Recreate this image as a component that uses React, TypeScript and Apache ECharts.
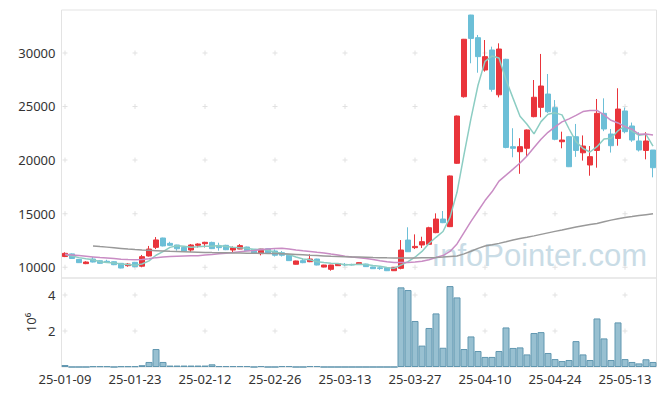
import React, { useEffect, useRef } from "react";
import * as echarts from "echarts";

const dates = [
  "25-01-09","25-01-10","25-01-13","25-01-14","25-01-15","25-01-16","25-01-17","25-01-20","25-01-21","25-01-22",
  "25-01-23","25-01-24","25-01-31","25-02-03","25-02-04","25-02-05","25-02-06","25-02-07","25-02-10","25-02-11",
  "25-02-12","25-02-13","25-02-14","25-02-17","25-02-18","25-02-19","25-02-20","25-02-21","25-02-24","25-02-25",
  "25-02-26","25-02-27","25-02-28","25-03-04","25-03-05","25-03-06","25-03-07","25-03-10","25-03-11","25-03-12",
  "25-03-13","25-03-14","25-03-17","25-03-18","25-03-19","25-03-20","25-03-21","25-03-24","25-03-25","25-03-26",
  "25-03-27","25-03-28","25-03-31","25-04-01","25-04-02","25-04-03","25-04-04","25-04-07","25-04-08","25-04-09",
  "25-04-10","25-04-11","25-04-14","25-04-15","25-04-16","25-04-17","25-04-18","25-04-21","25-04-22","25-04-23",
  "25-04-24","25-04-25","25-04-28","25-04-29","25-04-30","25-05-02","25-05-07","25-05-08","25-05-09","25-05-12",
  "25-05-13","25-05-14","25-05-15","25-05-16","25-05-19",
];

const opens = [
  11000,11250,10740,10340,10770,10610,10560,10520,10370,10150,
  10460,10100,11050,11860,12730,12230,12080,11860,11610,12050,
  12200,12320,11950,12050,11610,11700,11890,11680,11270,11730,
  11520,11360,11120,10280,10620,10520,10770,10020,9810,10150,
  10270,10270,10280,10300,10030,9950,9960,9680,9900,12540,
  11830,12080,12140,13230,14500,13790,19700,25910,33530,31420,
  28400,30270,26090,29400,21250,20780,21100,24050,24920,26160,
  24890,21710,22180,22180,20680,19540,20900,24360,22430,22020,
  24580,23180,21780,20900,20940,
];
const closes = [
  11300,10820,10430,10490,10490,10370,10460,10240,9930,10300,
  10060,10990,11700,12550,11990,12050,11730,11520,12080,12170,
  12330,11740,11830,11640,11830,12020,11550,11300,11700,11330,
  11120,11120,10620,10590,10430,10770,10210,10210,10210,10340,
  10220,10220,10430,10060,9870,9880,9680,10000,11610,11450,
  11950,12390,13690,14500,14160,18520,24110,31270,31350,29650,
  29650,26600,30360,21180,21100,21250,22810,25860,26910,24510,
  21940,21870,19380,20900,21310,20320,24360,22900,21340,24760,
  22650,21870,20940,21780,19290,
];
const lows = [
  10950,10780,10400,10290,10450,10330,10400,10200,9900,10050,
  10000,10000,11000,11700,11950,11980,11550,11460,11420,11840,
  11850,11700,11550,11600,11420,11680,11520,11280,11110,11300,
  11000,11000,10600,10250,10380,10480,10180,9990,9680,10120,
  10100,10160,10250,10030,9850,9760,9650,9660,9810,11430,
  11700,11800,12080,13180,14120,13750,19650,25830,29030,28150,
  28250,26380,25850,21100,20260,18720,20380,23990,23990,24400,
  21850,21100,19350,20300,19950,18540,19290,22700,20700,21340,
  22500,21700,20800,20070,18390,
];
const highs = [
  11400,11300,10760,10560,10960,10660,10700,10560,10400,10400,
  10500,11150,11990,12820,12760,12380,12100,11920,12170,12230,
  12380,12390,12290,12100,11950,12160,11920,11700,11730,11760,
  11670,11520,11150,10620,10800,11210,10800,10230,10230,10360,
  10400,10330,10450,10330,10050,10120,9980,10020,12540,13730,
  13070,12850,13780,15030,15250,18560,24150,31300,33550,31670,
  31200,30580,30890,29450,22970,22040,22850,27470,29900,28030,
  25600,22650,22250,23370,22300,21310,25700,25760,22900,26700,
  24900,23500,22600,22600,20940,
];

// volume, in units of 10^6
const volumes = [
  0.11,0,0,0,0.04,0.04,0.04,0,0.04,0.04,
  0.04,0.10,0.28,1.00,0.28,0.08,0.08,0.08,0.08,0.08,
  0.08,0.15,0.05,0.05,0.05,0.05,0.05,0,0.05,0,
  0,0.05,0.05,0,0,0.05,0.05,0,0,0,
  0,0,0,0,0,0,0,0,4.43,4.28,
  2.56,1.19,2.17,2.98,1.07,4.50,3.87,1.00,1.70,0.89,
  0.56,0.56,0.89,2.20,1.06,1.09,0.70,1.89,1.94,0.78,
  0.44,0.33,0.39,1.44,0.70,0.39,2.70,1.59,0.39,2.48,
  0.44,0.28,0.20,0.43,0.28,
];

const maShort = [
  11180,11050,10900,10800,10706,10520,10448,10410,10298,10260,
  10198,10304,10596,11120,11458,11856,12004,11968,11874,11910,
  11966,11968,12030,11942,11874,11812,11774,11668,11680,11580,
  11400,11314,11178,10956,10776,10706,10524,10442,10366,10348,
  10238,10240,10284,10254,10160,10092,9984,9898,10208,10524,
  10938,11480,12218,12796,13338,14652,16996,20512,23882,26980,
  29206,29704,29522,27488,25778,24098,23340,22440,23586,24268,
  24406,24218,22922,21720,21080,20756,21254,21958,22046,22736,
  23202,22704,22312,22400,21306,
];
const maMid = [
  11210,11150,11090,11030,10970,10910,10860,10810,10760,10720,
  10710,10730,10800,10900,10960,11000,11030,11050,11070,11084,
  11135,11181,11251,11309,11376,11458,11513,11566,11654,11706,
  11759,11765,11711,11613,11535,11471,11395,11330,11236,11145,
  11039,10963,10893,10814,10716,10609,10516,10451,10446,10452,
  10494,10557,10711,10906,11093,11480,12175,13228,14285,15251,
  16222,17041,18038,18594,19155,19724,20380,21173,21938,22591,
  23091,23565,23849,24169,24527,24617,24629,24211,23710,23466,
  23116,22879,22408,22438,22348,
];
const maLong = [
  null,null,null,null,11990,11930,11880,11820,11760,11700,
  11650,11610,11580,11550,11520,11490,11470,11450,11430,11410,
  11390,11370,11360,11350,11340,11330,11320,11310,11300,11290,
  11280,11260,11240,11200,11160,11120,11090,11060,11030,11010,
  10990,10970,10950,10930,10910,10900,10880,10870,10860,10860,
  10860,10880,10900,10920,10950,11000,11050,11250,11500,11760,
  11980,12100,12230,12380,12550,12680,12800,12930,13070,13210,
  13350,13480,13620,13750,13880,13980,14080,14240,14400,14530,
  14650,14730,14820,14910,15000,
];

const xTickLabels = ["25-01-09","25-01-23","25-02-12","25-02-26","25-03-13","25-03-27","25-04-10","25-04-24","25-05-13"];
const priceTicks = [10000, 15000, 20000, 25000, 30000];
const volumeTicks = [2, 4];

const UP = "#e9343b";
const DOWN = "#6cbfd7";
const FONT = "Noto Sans";
const PLUS = "path://M2,0H3V2H5V3H3V5H2V3H0V2H2Z";

export default function App() {
  const ref = useRef<HTMLDivElement>(null);
  useEffect(() => {
    const chart = echarts.init(ref.current!, null, { renderer: "svg" });
    const tickIdx = xTickLabels.map((d) => dates.indexOf(d));
    const crossMain: number[][] = [];
    const crossVol: number[][] = [];
    tickIdx.forEach((i) => {
      priceTicks.forEach((v) => crossMain.push([i, v]));
      volumeTicks.forEach((v) => crossVol.push([i, v]));
    });
    const candleData = dates.map((_, i) => [opens[i], closes[i], lows[i], highs[i]]);
    const gridStyle = { show: true, borderColor: "#e3e3e3", borderWidth: 1 };
    const plain = (v: number) => String(v);
    chart.setOption({
      animation: false,
      textStyle: { fontFamily: FONT },
      grid: [
        { left: 61.5, right: 8.5, top: 10, height: 268, ...gridStyle },
        { left: 61.5, right: 8.5, top: 278, height: 89, ...gridStyle },
      ],
      xAxis: [
        {
          type: "category", gridIndex: 0, data: dates, boundaryGap: true,
          axisLine: { show: false }, axisTick: { show: false }, axisLabel: { show: false },
          splitLine: { show: false },
        },
        {
          type: "category", gridIndex: 1, data: dates, boundaryGap: true,
          axisLine: { show: false }, axisTick: { show: false },
          axisLabel: { interval: 9, fontSize: 13, color: "#333", margin: 5, fontFamily: FONT },
          splitLine: { show: false },
        },
      ],
      yAxis: [
        {
          type: "value", gridIndex: 0, min: 9000, max: 34000, splitNumber: 5, scale: true,
          axisLine: { show: false }, axisTick: { show: false }, splitLine: { show: false },
          axisLabel: { fontSize: 13, color: "#333", margin: 6, showMinLabel: false, showMaxLabel: false, fontFamily: FONT, formatter: plain },
        },
        {
          type: "value", gridIndex: 1, min: 0, max: 4.95, interval: 2,
          axisLine: { show: false }, axisTick: { show: false }, splitLine: { show: false },
          axisLabel: { fontSize: 13, color: "#333", margin: 6, showMinLabel: false, showMaxLabel: false, fontFamily: FONT, formatter: plain },
          name: "10⁶", nameLocation: "middle", nameGap: 24, nameRotate: 90,
          nameTextStyle: { fontSize: 13, color: "#333", fontFamily: FONT },
        },
      ],
      graphic: [
        {
          type: "text", z: 0, silent: true,
          style: {
            text: "InfoPointer.com", x: 647, y: 255, textAlign: "right", textVerticalAlign: "middle",
            font: '31px "Liberation Sans"', fill: "#c9dce6",
          },
        },
      ],
      series: [
        {
          type: "scatter", xAxisIndex: 0, yAxisIndex: 0, data: crossMain, symbol: PLUS, symbolSize: 5,
          itemStyle: { color: "#dadada" }, silent: true, z: 1,
        },
        {
          type: "scatter", xAxisIndex: 1, yAxisIndex: 1, data: crossVol, symbol: PLUS, symbolSize: 5,
          itemStyle: { color: "#dadada" }, silent: true, z: 1,
        },
        {
          type: "candlestick", xAxisIndex: 0, yAxisIndex: 0, data: candleData, barWidth: 5,
          itemStyle: { color: UP, color0: DOWN, borderColor: UP, borderColor0: DOWN, borderWidth: 1 },
          z: 3,
        },
        {
          type: "line", xAxisIndex: 0, yAxisIndex: 0, data: maShort, symbol: "none", z: 4,
          lineStyle: { color: "#8ccdc3", width: 1.5 },
        },
        {
          type: "line", xAxisIndex: 0, yAxisIndex: 0, data: maMid, symbol: "none", z: 4,
          lineStyle: { color: "#c98cc4", width: 1.5 },
        },
        {
          type: "line", xAxisIndex: 0, yAxisIndex: 0, data: maLong, symbol: "none", z: 4,
          lineStyle: { color: "#999999", width: 1.5 }, connectNulls: false,
        },
        {
          type: "bar", xAxisIndex: 1, yAxisIndex: 1, data: volumes, barCategoryGap: "0%",
          itemStyle: { color: "#98c0d1", borderColor: "#6197b0", borderWidth: 1 },
          z: 3,
        },
      ],
    });
    return () => chart.dispose();
  }, []);
  return <div ref={ref} style={{ position: "absolute", left: 0, top: 0, width: 665, height: 396 }} />;
}
